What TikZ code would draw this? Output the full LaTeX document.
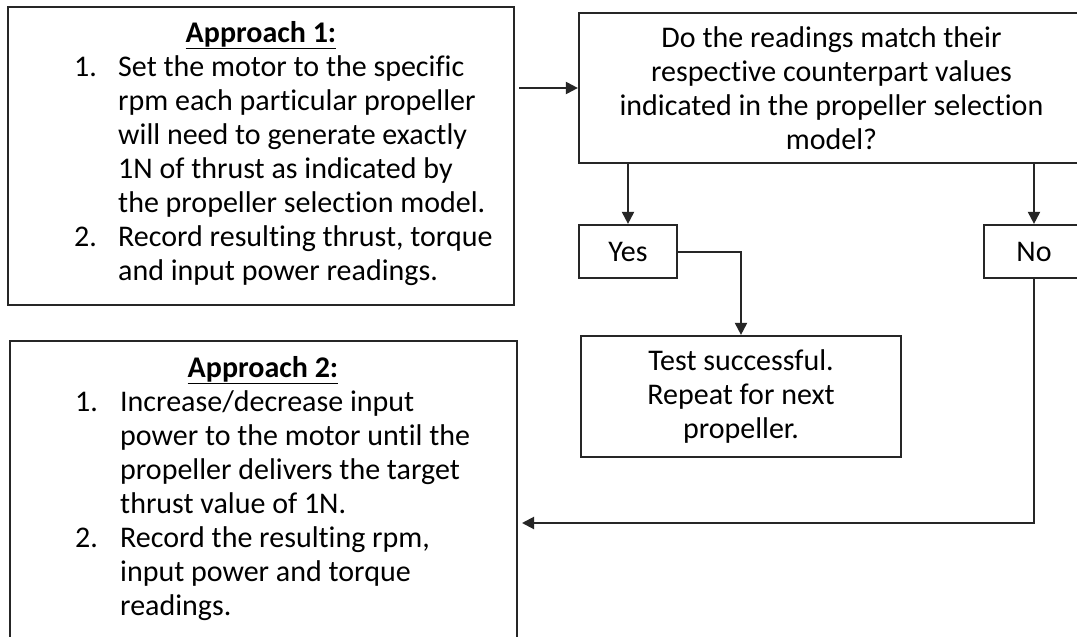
\documentclass[tikz,border=0pt]{standalone}
\usepackage{fontspec}
\setmainfont{Carlito}[Ligatures={NoCommon,NoContextual,NoRare}]
\usetikzlibrary{arrows.meta}
\begin{document}
\begin{tikzpicture}[x=1pt,y=-1pt,
  box/.style={draw=black!85, line width=2.2pt, rectangle, inner sep=0pt},
  conn/.style={draw=black!85, line width=2pt},
  arr/.style={conn, -{Triangle[length=12pt,width=12pt]}},
  txt/.style={inner sep=0pt, font=\fontsize{30}{34}\selectfont},
]
\useasboundingbox (0,0) rectangle (1077,637);
\fill[white] (0,0) rectangle (1077,637);
\clip (0,0) rectangle (1077,637);

% Approach 1
\node[box, minimum width=506pt, minimum height=298pt] (a1) at (261,156) {};
\node[txt, anchor=base] (a1h) at (261,42) {\underline{\textbf{Approach 1:}}};
\node[txt, anchor=base west] (a1l) at (74,76) {\begin{tabular}[t]{@{}p{44pt}@{}l@{}}
1. & Set the motor to the specific\\
 & rpm each particular propeller\\
 & will need to generate exactly\\
 & 1N of thrust as indicated by\\
 & the propeller selection model.\\
2. & Record resulting thrust, torque\\
 & and input power readings.
\end{tabular}};

% Decision
\node[box, txt, align=center, minimum width=505pt, minimum height=150pt] (dec) at (831.5,88)
  {Do the readings match their\\respective counterpart values\\indicated in the propeller selection\\model?};

\node[box, txt, minimum width=98pt, minimum height=53pt] (yes) at (628,251.5) {Yes};
\node[box, txt, minimum width=100pt, minimum height=53pt] (no) at (1034,251.5) {No};

\node[box, txt, align=center, minimum width=320pt, minimum height=121pt] (test) at (741,396.5)
  {Test successful.\\Repeat for next\\propeller.};

% Approach 2
\node[box, minimum width=507pt, minimum height=339pt] (a2) at (263.5,510.5) {};
\node[txt, anchor=base] (a2h) at (263,377) {\underline{\textbf{Approach 2:}}};
\node[txt, anchor=base west] (a2l) at (75,411) {\begin{tabular}[t]{@{}p{45pt}@{}l@{}}
1. & Increase/decrease input\\
 & power to the motor until the\\
 & propeller delivers the target\\
 & thrust value of 1N.\\
2. & Record the resulting rpm,\\
 & input power and torque\\
 & readings.
\end{tabular}};

% Connectors
\draw[arr] ([xshift=4pt]a1.east |- dec.west) -- (dec.west);
\draw[arr] (yes.north |- dec.south) -- (yes.north);
\draw[arr] (no.north |- dec.south) -- (no.north);
\draw[arr] (yes.east) -| (test.north);
\coordinate (fb) at (522,523);
\draw[arr] (no.south) |- (fb);
\end{tikzpicture}
\end{document}
